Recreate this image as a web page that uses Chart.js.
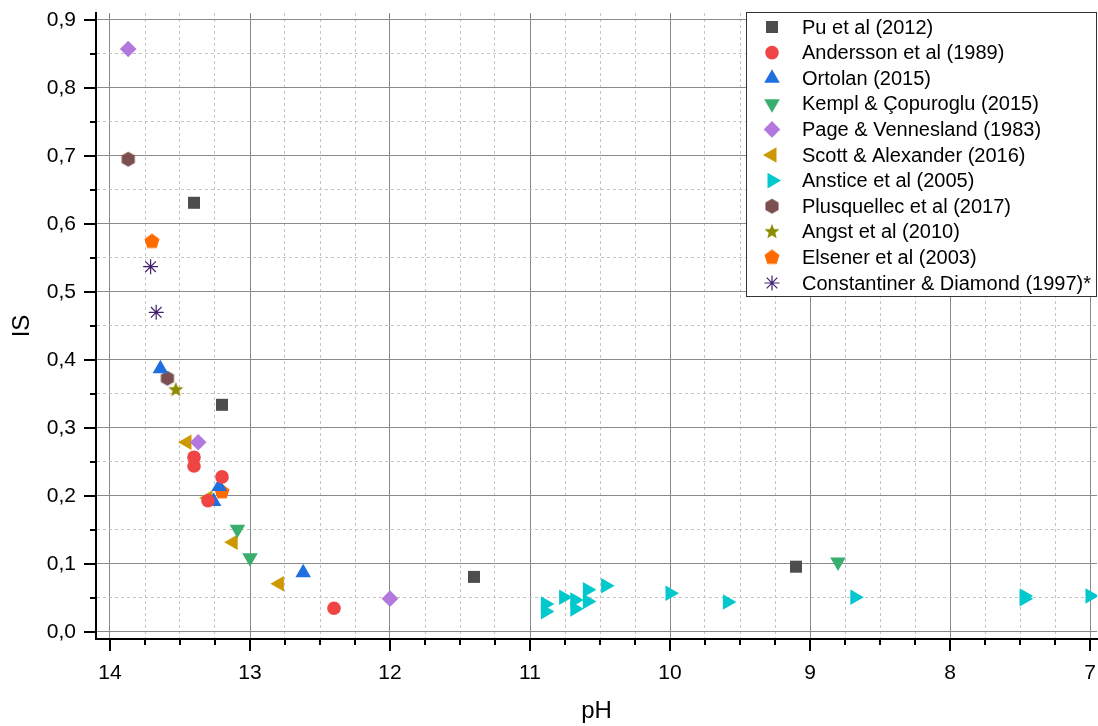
<!DOCTYPE html>
<html>
<head>
<meta charset="utf-8">
<script src="https://cdn.jsdelivr.net/npm/chart.js@4/dist/chart.umd.min.js"></script>
<style>
  body { margin: 0; background: #fff; }
  #wrap { width: 1098px; height: 726px; }
</style>
</head>
<body>
<div id="wrap"><canvas id="graphique" width="1098" height="726"></canvas></div>
<script>
// Données : pH (x) et IS (y) pour chaque source
const puPH = [13.4, 13.2, 11.4, 9.1];
const puIS = [0.631, 0.334, 0.081, 0.096];

const anderssonPH = [13.4, 13.4, 13.2, 13.3, 12.4];
const anderssonIS = [0.257, 0.244, 0.228, 0.193, 0.035];

const ortolanPH = [13.64, 13.22, 13.26, 12.62];
const ortolanIS = [0.387, 0.214, 0.192, 0.087];

const kemplPH = [13.09, 13.0, 8.8];
const kemplIS = [0.151, 0.109, 0.103];

const pagePH = [13.87, 13.37, 12.0];
const pageIS = [0.857, 0.279, 0.049];

const scottPH = [13.45, 13.3, 13.12, 12.79];
const scottIS = [0.279, 0.197, 0.132, 0.071];

const ansticePH = [10.89, 10.89, 10.76, 10.68, 10.68, 10.59, 10.59, 10.46, 10.0, 9.59, 8.68, 7.47, 7.47, 7.0];
const ansticeIS = [0.041, 0.030, 0.051, 0.047, 0.034, 0.062, 0.045, 0.068, 0.057, 0.044, 0.051, 0.053, 0.049, 0.053];

const plusquellecPH = [13.87, 13.59];
const plusquellecIS = [0.695, 0.373];

const angstPH = [13.53];
const angstIS = [0.356];

const elsenerPH = [13.7, 13.2];
const elsenerIS = [0.574, 0.206];

const constantinerPH = [13.71, 13.67];
const constantinerIS = [0.537, 0.470];

// graduations
const xMajorTicks = [14, 13, 12, 11, 10, 9, 8, 7];
const yMajorTicks = [0, 0.1, 0.2, 0.3, 0.4, 0.5, 0.6, 0.7, 0.8, 0.9];

// petits canvas pour les marqueurs que Chart.js ne connait pas
function faireMarqueur(couleur, dessin) {
    const c = document.createElement("canvas");
    c.width = 18;
    c.height = 18;
    const g = c.getContext("2d");
    g.fillStyle = couleur;
    g.beginPath();
    dessin(g, 9, 9);
    g.closePath();
    g.fill();
    return c;
}
function polygone(n, r) {
    return function (g, cx, cy) {
        for (let i = 0; i < n; i++) {
            const a = -Math.PI / 2 + i * 2 * Math.PI / n;
            const px = cx + r * Math.cos(a), py = cy + r * Math.sin(a);
            if (i === 0) g.moveTo(px, py); else g.lineTo(px, py);
        }
    };
}
function etoile(r, ri) {
    return function (g, cx, cy) {
        for (let i = 0; i < 10; i++) {
            const a = -Math.PI / 2 + i * Math.PI / 5;
            const rr = i % 2 === 0 ? r : ri;
            const px = cx + rr * Math.cos(a), py = cy + rr * Math.sin(a);
            if (i === 0) g.moveTo(px, py); else g.lineTo(px, py);
        }
    };
}
const hexagone = faireMarqueur("#7b4f4f", polygone(6, 7.6));
const pentagone = faireMarqueur("#ff6a00", polygone(5, 7.9));
const etoilePleine = faireMarqueur("#8c8c00", etoile(8, 3.4));

function points(xs, ys) {
    return xs.map((x, i) => ({ x: x, y: ys[i] }));
}

const datasets = [
    { label: "Pu et al (2012)", data: points(puPH, puIS), pointStyle: "rect", pointRadius: 8.5, backgroundColor: "#4d4d4d", borderColor: "#4d4d4d", borderWidth: 0 },
    { label: "Andersson et al (1989)", data: points(anderssonPH, anderssonIS), pointStyle: "circle", pointRadius: 6.8, backgroundColor: "#f04545", borderColor: "#f04545", borderWidth: 0 },
    { label: "Ortolan (2015)", data: points(ortolanPH, ortolanIS), pointStyle: "triangle", pointRadius: 9, backgroundColor: "#1f6fe0", borderColor: "#1f6fe0", borderWidth: 0 },
    { label: "Kempl & Çopuroglu (2015)", data: points(kemplPH, kemplIS), pointStyle: "triangle", rotation: 180, pointRadius: 9, backgroundColor: "#3aae6c", borderColor: "#3aae6c", borderWidth: 0 },
    { label: "Page & Vennesland (1983)", data: points(pagePH, pageIS), pointStyle: "rectRot", pointRadius: 8.3, backgroundColor: "#b378de", borderColor: "#b378de", borderWidth: 0 },
    { label: "Scott & Alexander (2016)", data: points(scottPH, scottIS), pointStyle: "triangle", rotation: -90, pointRadius: 9, backgroundColor: "#cc9900", borderColor: "#cc9900", borderWidth: 0 },
    { label: "Anstice et al (2005)", data: points(ansticePH, ansticeIS), pointStyle: "triangle", rotation: 90, pointRadius: 9, backgroundColor: "#00c8cc", borderColor: "#00c8cc", borderWidth: 0 },
    { label: "Plusquellec et al (2017)", data: points(plusquellecPH, plusquellecIS), pointStyle: hexagone, pointRadius: 8, backgroundColor: "#7b4f4f", borderColor: "#7b4f4f", borderWidth: 0 },
    { label: "Angst et al (2010)", data: points(angstPH, angstIS), pointStyle: etoilePleine, pointRadius: 8, backgroundColor: "#8c8c00", borderColor: "#8c8c00", borderWidth: 0 },
    { label: "Elsener et al (2003)", data: points(elsenerPH, elsenerIS), pointStyle: pentagone, pointRadius: 8, backgroundColor: "#ff6a00", borderColor: "#ff6a00", borderWidth: 0 },
    { label: "Constantiner & Diamond (1997)*", data: points(constantinerPH, constantinerIS), pointStyle: "star", pointRadius: 7.5, backgroundColor: "#42206e", borderColor: "#42206e", borderWidth: 1.2 }
];
datasets.forEach(d => { d.pointHoverRadius = d.pointRadius; });

function estMajeur(v, liste) {
    return liste.some(m => Math.abs(m - v) < 1e-6);
}

// pas de marge automatique autour des axes : la zone du graphique est fixée
function caler(taille, horizontal) {
    return function (scale) {
        if (horizontal) scale.height = taille; else scale.width = taille;
        scale.paddingTop = 0;
        scale.paddingBottom = 0;
        scale.paddingLeft = 0;
        scale.paddingRight = 0;
    };
}

// traits de graduation en dehors (majeurs longs, mineurs courts)
const graduations = {
    id: "graduations",
    afterDraw(chart) {
        const ctx = chart.ctx;
        const xs = chart.scales.x, ys = chart.scales.y;
        const bas = chart.chartArea.bottom, gauche = chart.chartArea.left;
        ctx.save();
        ctx.strokeStyle = "#000";
        ctx.lineWidth = 2;
        ctx.beginPath();
        xs.ticks.forEach(t => {
            const px = Math.round(xs.getPixelForValue(t.value));
            const l = estMajeur(t.value, xMajorTicks) ? 12 : 6;
            ctx.moveTo(px, bas);
            ctx.lineTo(px, bas + l);
        });
        ys.ticks.forEach(t => {
            const py = Math.round(ys.getPixelForValue(t.value));
            const l = estMajeur(t.value, yMajorTicks) ? 12 : 6;
            ctx.moveTo(gauche, py);
            ctx.lineTo(gauche - l, py);
        });
        ctx.stroke();
        ctx.restore();
    }
};

// légende encadrée dans la zone du graphique, en haut à droite
const legendeCadre = {
    id: "legendeCadre",
    afterDatasetsDraw(chart) {
        const ctx = chart.ctx;
        const x0 = 746.5, y0 = 12.5, w = 350, h = 284;
        ctx.save();
        ctx.fillStyle = "#fff";
        ctx.fillRect(x0, y0, w, h);
        ctx.strokeStyle = "#333";
        ctx.lineWidth = 1;
        ctx.strokeRect(x0, y0, w, h);
        ctx.font = "20px 'Liberation Sans', Arial, sans-serif";
        ctx.textBaseline = "middle";
        chart.data.datasets.forEach((d, i) => {
            const y = 27 + i * 25.6;
            ctx.fillStyle = d.backgroundColor;
            ctx.strokeStyle = d.borderColor;
            ctx.lineWidth = d.borderWidth;
            Chart.helpers.drawPoint(ctx, {
                pointStyle: d.pointStyle,
                rotation: d.rotation || 0,
                radius: d.pointRadius,
                borderWidth: d.borderWidth
            }, 772, y);
            ctx.fillStyle = "#000";
            ctx.fillText(d.label, 802, y + 1);
        });
        ctx.restore();
    }
};

const config = {
    type: "scatter",
    data: { datasets: datasets },
    options: {
        responsive: false,
        animation: false,
        devicePixelRatio: 1,
        layout: { autoPadding: false, padding: { top: 13, right: 1, left: 0, bottom: 0 } },
        plugins: {
            legend: { display: false },
            tooltip: { enabled: false }
        },
        scales: {
            x: {
                type: "linear",
                reverse: true,
                min: 6.95,
                max: 14.1,
                afterFit: caler(87, true),
                ticks: {
                    stepSize: 0.25,
                    autoSkip: false,
                    includeBounds: false,
                    maxRotation: 0,
                    padding: 22,
                    color: "#000",
                    font: { family: "'Liberation Sans', Arial", size: 21 },
                    callback: v => estMajeur(v, xMajorTicks) ? String(Math.round(v)) : ""
                },
                grid: {
                    drawTicks: false,
                    lineWidth: 1,
                    color: c => c.tick && estMajeur(c.tick.value, xMajorTicks) ? "#8a8a8a" : "#c4c4c4"
                },
                border: {
                    display: true,
                    color: "#000",
                    width: 2,
                    dash: c => c.tick && !estMajeur(c.tick.value, xMajorTicks) ? [3, 3] : []
                },
                title: {
                    display: true,
                    text: "pH",
                    color: "#000",
                    padding: { top: 0, bottom: 0 },
                    font: { family: "'Liberation Sans', Arial", size: 24 }
                }
            },
            y: {
                type: "linear",
                min: -0.0103,
                max: 0.91,
                afterFit: caler(96, false),
                ticks: {
                    stepSize: 0.05,
                    autoSkip: false,
                    includeBounds: false,
                    padding: 20,
                    color: "#000",
                    font: { family: "'Liberation Sans', Arial", size: 21 },
                    callback: v => estMajeur(v, yMajorTicks) ? v.toFixed(1).replace(".", ",") : ""
                },
                grid: {
                    drawTicks: false,
                    lineWidth: 1,
                    color: c => c.tick && estMajeur(c.tick.value, yMajorTicks) ? "#8a8a8a" : "#c4c4c4"
                },
                border: {
                    display: true,
                    color: "#000",
                    width: 2,
                    dash: c => c.tick && !estMajeur(c.tick.value, yMajorTicks) ? [3, 3] : []
                },
                title: {
                    display: true,
                    text: "IS",
                    color: "#000",
                    padding: { top: 8, bottom: 0 },
                    font: { family: "'Liberation Sans', Arial", size: 24 }
                }
            }
        }
    },
    plugins: [graduations, legendeCadre]
};

const graphique = new Chart(document.querySelector("#graphique"), config);
</script>
</body>
</html>
